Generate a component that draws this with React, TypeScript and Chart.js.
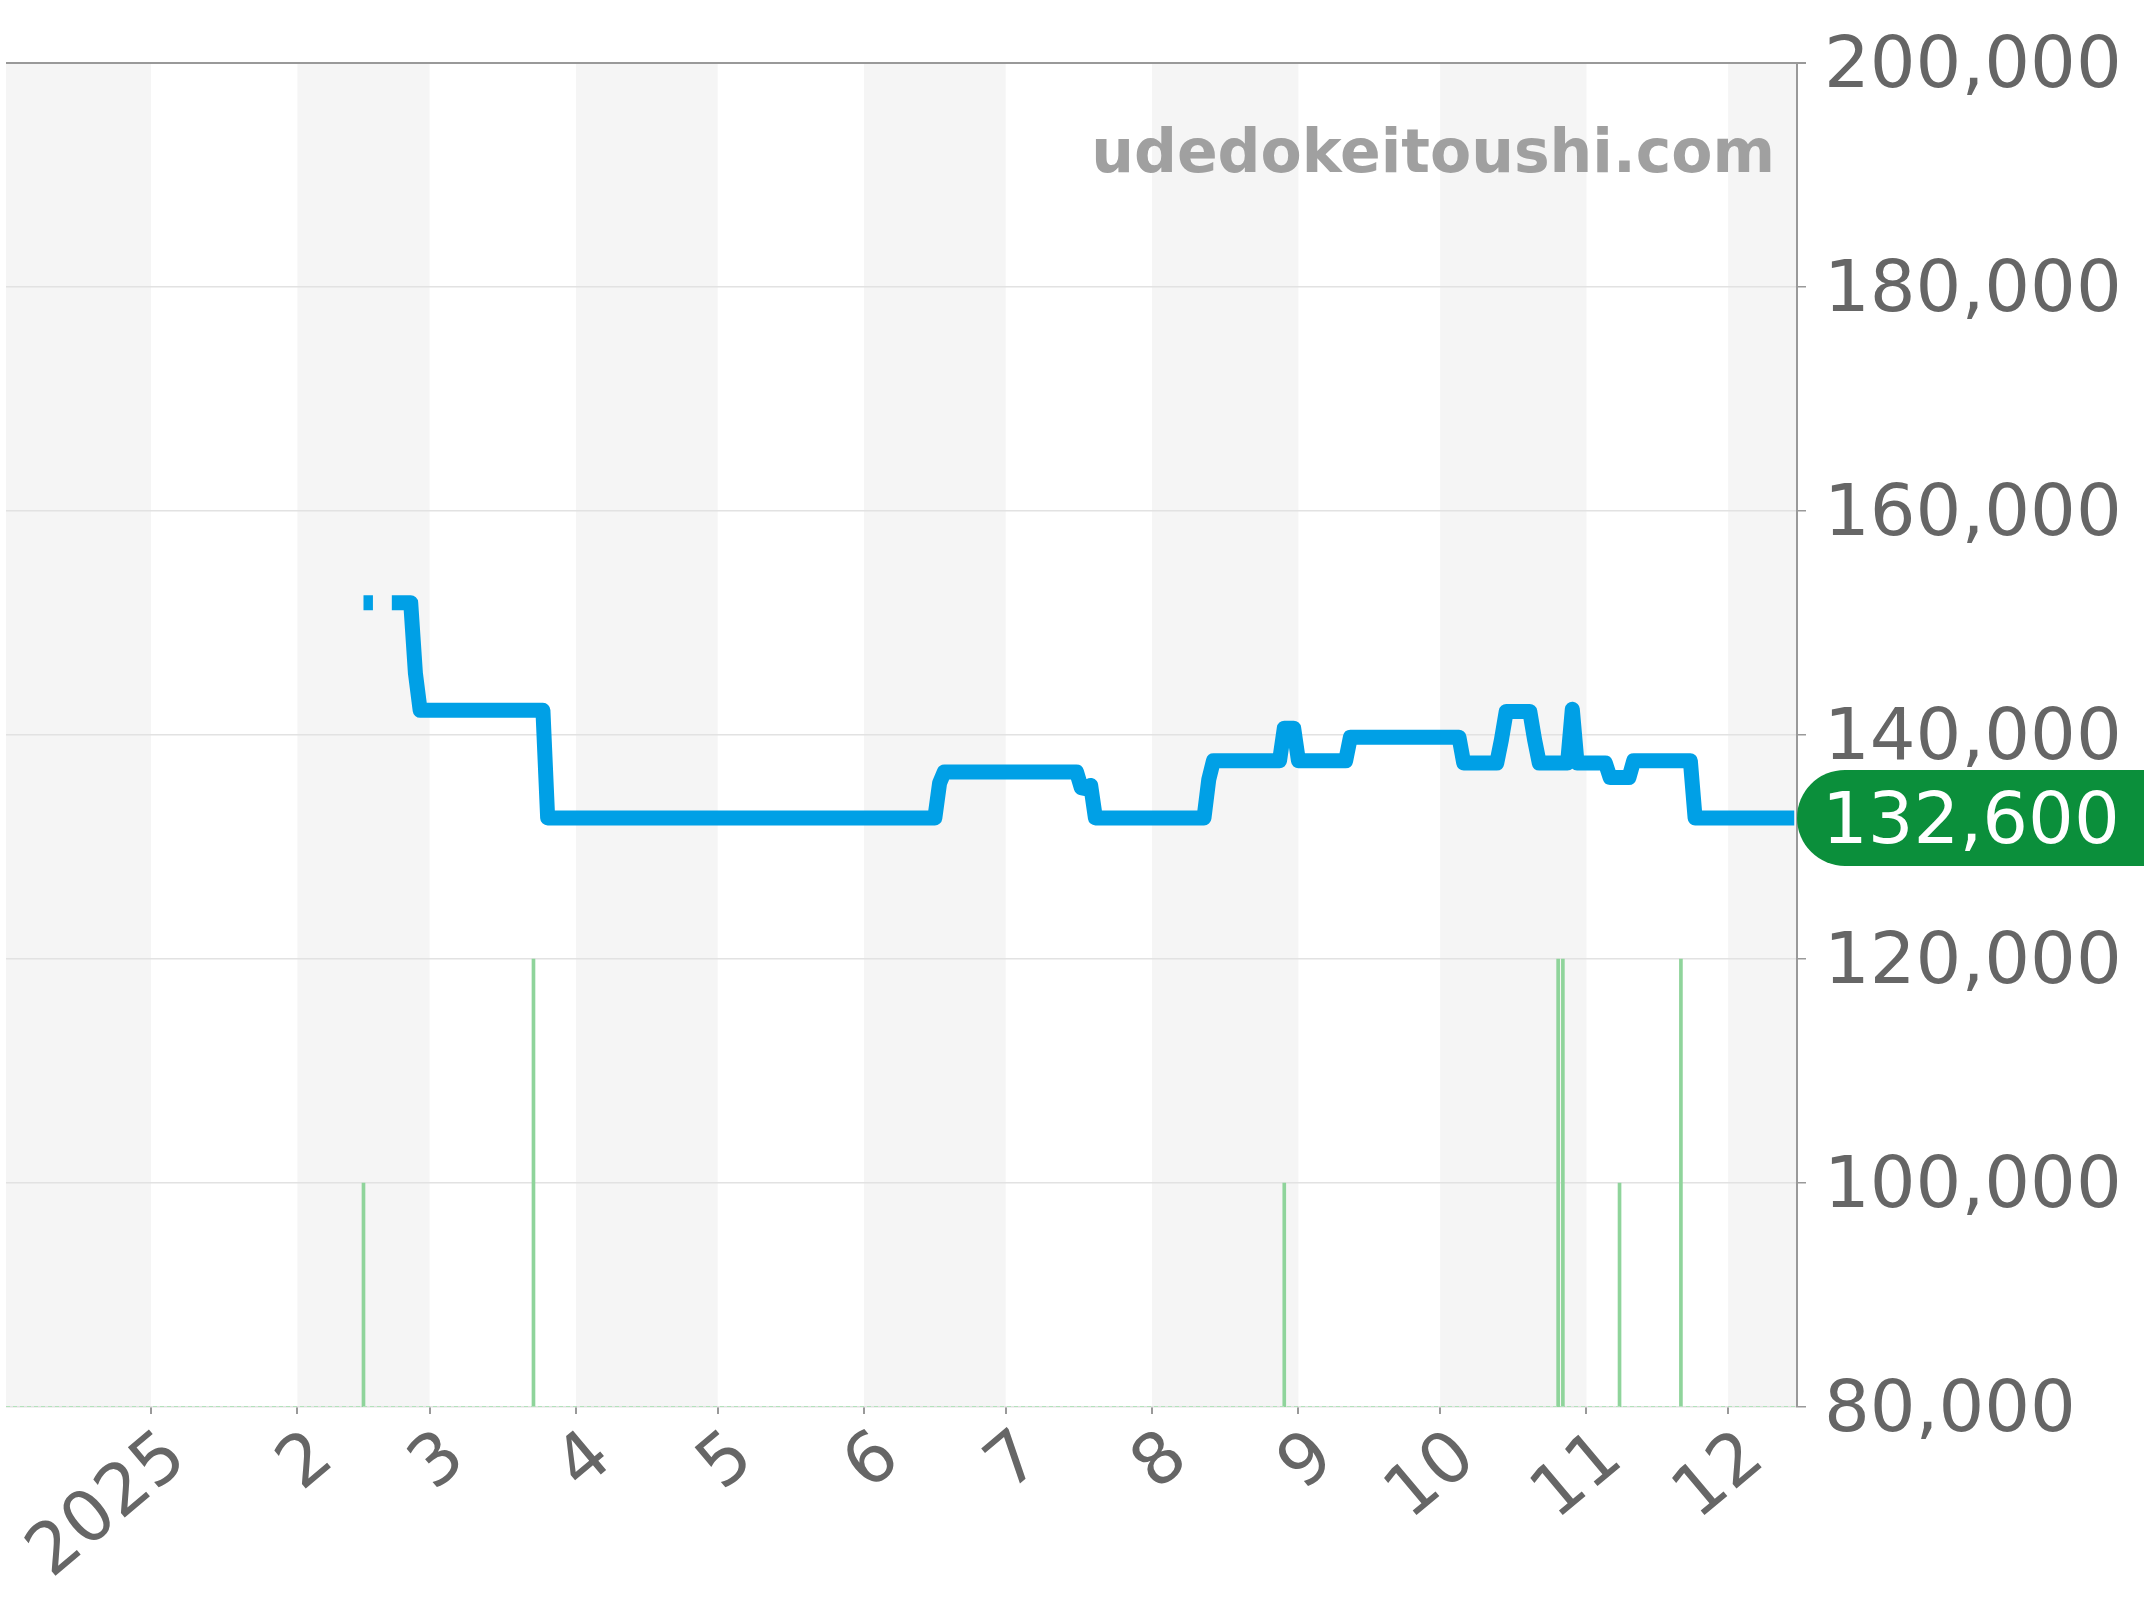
import React, { useEffect, useRef } from 'react';
import { Chart, registerables } from 'chart.js';

Chart.register(...registerables);

// ---------- data ----------
const AXIS_START = '2024-12-01T07:00:00Z';
const AXIS_END = '2025-12-15T14:00:00Z';

const PRICE_DATES = [
  '2025-02-15', '2025-02-17', '2025-02-19', '2025-02-21', '2025-02-25', '2025-02-26', '2025-02-27',
  '2025-03-25', '2025-03-26', '2025-06-16', '2025-06-17', '2025-06-18', '2025-07-16', '2025-07-17',
  '2025-07-18', '2025-07-19', '2025-07-20', '2025-08-12', '2025-08-13', '2025-08-14', '2025-08-28',
  '2025-08-29', '2025-08-31', '2025-09-01', '2025-09-11', '2025-09-12', '2025-10-05', '2025-10-06',
  '2025-10-13', '2025-10-14', '2025-10-15', '2025-10-20', '2025-10-21', '2025-10-22', '2025-10-28',
  '2025-10-29', '2025-10-30', '2025-11-05', '2025-11-06', '2025-11-10', '2025-11-11', '2025-11-23',
  '2025-11-24', '2025-12-15',
];
const PRICE_VALUES: (number | null)[] = [
  151800, 151800, null, 151800, 151800, 145500, 142200,
  142200, 132600, 132600, 135700, 136700, 136700, 135300,
  135200, 135500, 132600, 132600, 136000, 137700, 137700,
  140600, 140600, 137700, 137700, 139800, 139800, 137500,
  137500, 139600, 142100, 142100, 139600, 137500, 137500,
  142300, 137500, 137500, 136200, 136200, 137700, 137700,
  132600, 132600,
];

const VOLUME_DATES = ['2025-02-15', '2025-03-23', '2025-08-29', '2025-10-26', '2025-10-27', '2025-11-08', '2025-11-21'];
const VOLUME_COUNTS = [1, 2, 1, 2, 2, 1, 2];

const TICK_DATES = [
  '2025-01-01', '2025-02-01', '2025-03-01', '2025-04-01', '2025-05-01', '2025-06-01',
  '2025-07-01', '2025-08-01', '2025-09-01', '2025-10-01', '2025-11-01', '2025-12-01',
];
const TICK_LABELS = ['2025', '2', '3', '4', '5', '6', '7', '8', '9', '10', '11', '12'];

const BAND_DATES = [
  '2024-12-01', '2025-01-01', '2025-02-01', '2025-03-01', '2025-04-01', '2025-05-01', '2025-06-01',
  '2025-07-01', '2025-08-01', '2025-09-01', '2025-10-01', '2025-11-01', '2025-12-01', '2026-01-01',
];

const Y_MIN = 80000;
const Y_MAX = 200000;
const Y_STEP = 20000;
const WATERMARK = 'udedokeitoushi.com';

// ---------- helpers ----------
const DAY0 = Date.UTC(2025, 0, 1);
const toDay = (s: string) => (Date.parse(s.length === 10 ? s + 'T00:00:00Z' : s) - DAY0) / 86400000;
const X_MIN = toDay(AXIS_START);
const X_MAX = toDay(AXIS_END);
const TICK_DAYS = TICK_DATES.map(toDay);
const BAND_DAYS = BAND_DATES.map(toDay);
const LATEST = [...PRICE_VALUES].reverse().find((v) => v !== null) as number;
const fmt = (v: number) => v.toLocaleString('en-US');

const FONT = "'DejaVu Sans', sans-serif";

const bandsPlugin = {
  id: 'bands',
  beforeDraw(chart: any) {
    const { ctx, chartArea } = chart;
    const xs = chart.scales.x;
    ctx.save();
    ctx.fillStyle = '#f5f5f5';
    for (let i = 0; i < BAND_DAYS.length - 1; i += 2) {
      const a = Math.max(xs.getPixelForValue(BAND_DAYS[i]), chartArea.left);
      const b = Math.min(xs.getPixelForValue(BAND_DAYS[i + 1]), chartArea.right);
      if (b > a) ctx.fillRect(a, chartArea.top, b - a, chartArea.bottom - chartArea.top);
    }
    ctx.restore();
  },
};

const watermarkPlugin = {
  id: 'watermark',
  beforeDatasetsDraw(chart: any) {
    const { ctx, chartArea } = chart;
    ctx.save();
    ctx.font = `bold 60px ${FONT}`;
    ctx.fillStyle = '#a0a0a0';
    ctx.textAlign = 'right';
    ctx.textBaseline = 'alphabetic';
    ctx.fillText(WATERMARK, chartArea.right - 22, chartArea.top + 109);
    ctx.restore();
  },
};

const badgePlugin = {
  id: 'badge',
  afterDraw(chart: any) {
    const { ctx, chartArea } = chart;
    const y = chart.scales.y.getPixelForValue(LATEST);
    const h = 96;
    const x0 = chartArea.right;
    ctx.save();
    ctx.fillStyle = '#0b8f3b';
    ctx.beginPath();
    ctx.roundRect(x0, y - h / 2, 400, h, h / 2);
    ctx.fill();
    ctx.fillStyle = '#ffffff';
    ctx.font = `72px ${FONT}`;
    ctx.textAlign = 'left';
    ctx.textBaseline = 'middle';
    ctx.fillText(fmt(LATEST), x0 + 25, y + 6);
    ctx.restore();
  },
};

export default function App() {
  const ref = useRef<HTMLCanvasElement | null>(null);

  useEffect(() => {
    if (!ref.current) return;
    const chart = new Chart(ref.current, {
      type: 'line',
      data: {
        datasets: [
          {
            type: 'line',
            label: 'price',
            data: PRICE_DATES.map((d, i) => ({ x: toDay(d), y: PRICE_VALUES[i] })) as any,
            borderColor: '#00a0e6',
            borderWidth: 15,
            borderJoinStyle: 'round',
            borderCapStyle: 'butt',
            pointRadius: 0,
            spanGaps: false,
            tension: 0,
            yAxisID: 'y',
            order: 0,
          },
          {
            type: 'line',
            label: 'baseline',
            data: [{ x: X_MIN, y: 0 }, { x: X_MAX, y: 0 }],
            borderColor: '#b3e2bb',
            borderWidth: 2,
            borderDash: [4, 3],
            pointRadius: 0,
            yAxisID: 'yv',
            order: 1,
          },
          {
            type: 'bar',
            label: 'volume',
            data: VOLUME_DATES.map((d, i) => ({ x: toDay(d), y: VOLUME_COUNTS[i] })) as any,
            backgroundColor: '#8fd49b',
            barThickness: 3,
            yAxisID: 'yv',
            order: 2,
          },
        ],
      },
      options: {
        animation: false,
        responsive: false,
        devicePixelRatio: 1,
        layout: { padding: { left: 6, top: 63, right: 0, bottom: 0 } },
        plugins: { legend: { display: false }, tooltip: { enabled: false } },
        scales: {
          x: {
            type: 'linear',
            min: X_MIN,
            max: X_MAX,
            offset: false,
            afterBuildTicks: (s: any) => {
              s.ticks = TICK_DAYS.map((v) => ({ value: v }));
            },
            afterFit: (s: any) => {
              s.height = 193;
            },
            ticks: {
              autoSkip: false,
              maxRotation: 40,
              minRotation: 40,
              color: '#666',
              font: { family: FONT, size: 71 },
              padding: 2,
              labelOffset: 27,
              callback: (_v: any, i: number) => TICK_LABELS[i],
            },
            grid: {
              offset: false,
              drawOnChartArea: false,
              drawTicks: true,
              tickLength: 7,
              tickColor: '#999',
              lineWidth: 2,
            },
            border: { display: false },
          },
          y: {
            position: 'right',
            min: Y_MIN,
            max: Y_MAX,
            afterFit: (s: any) => {
              s.width = 347;
            },
            ticks: {
              stepSize: Y_STEP,
              color: '#666',
              font: { family: FONT, size: 72 },
              padding: 18,
              labelOffset: 5,
              callback: (v: any) => fmt(Number(v)),
            },
            grid: {
              color: (c: any) => (c.tick && c.tick.value === Y_MAX ? '#999' : '#e2e2e2'),
              lineWidth: (c: any) => (c.tick && c.tick.value === Y_MAX ? 2 : 1.5),
              tickColor: '#999',
              tickLength: 9,
              drawTicks: true,
            },
            border: { display: true, color: '#999', width: 2 },
          },
          yv: {
            display: false,
            min: 0,
            max: 6,
          },
        },
      },
      plugins: [bandsPlugin, watermarkPlugin, badgePlugin],
    } as any);
    return () => chart.destroy();
  }, []);

  return (
    <div style={{ position: 'absolute', left: 0, top: 0, width: 2144, height: 1600 }}>
      <canvas ref={ref} width={2144} height={1600} style={{ width: 2144, height: 1600, display: 'block' }} />
    </div>
  );
}
